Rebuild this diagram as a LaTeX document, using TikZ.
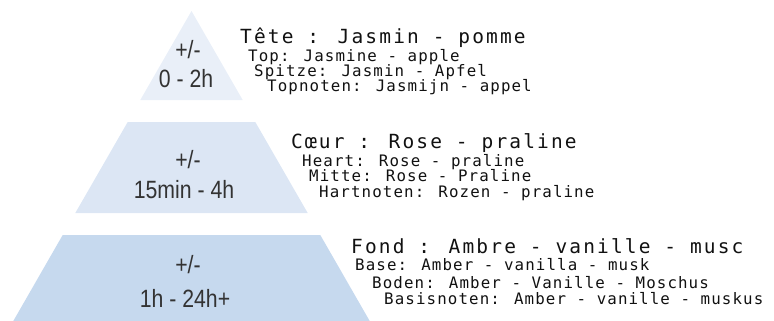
\documentclass[tikz,border=0pt]{standalone}
\usepackage{fontspec}
\setmainfont{Liberation Sans}
\newfontfamily\pyrfont[FakeStretch=0.85]{Liberation Sans}
\newfontfamily\headfont[LetterSpace=11]{DejaVu Sans Mono}
\newfontfamily\subfont[LetterSpace=7]{DejaVu Sans Mono}
\definecolor{tierA}{HTML}{E9EFF8}
\definecolor{tierB}{HTML}{DCE6F4}
\definecolor{tierC}{HTML}{C6D9EE}
\definecolor{pyrtext}{HTML}{333333}
\definecolor{notetext}{HTML}{111111}
\begin{document}
\begin{tikzpicture}[x=1pt,y=-1pt,
  timelbl/.style={font=\pyrfont\fontsize{25}{27}\selectfont, text=pyrtext, inner sep=0pt, anchor=center},
  headline/.style={font=\headfont\fontsize{19.5}{21}\selectfont, text=notetext, inner sep=0pt, anchor=base west},
  subline/.style={font=\subfont\fontsize{15.8}{17}\selectfont, text=notetext, inner sep=0pt, anchor=base west}]
\useasboundingbox (0,0) rectangle (774,321);
% pyramid tiers
\fill[tierA] (191.5,11) -- (242.7,100) -- (140.3,100) -- cycle;
\fill[tierB] (127.7,122) -- (255.3,122) -- (307.7,213) -- (75.3,213) -- cycle;
\fill[tierC] (62.7,235) -- (320.3,235) -- (369.7,321) -- (13.3,321) -- cycle;
% durations
\node[timelbl] (t1a) at (188,50) {+/-};
\node[timelbl] (t1b) at (186,79) {0 - 2h};
\node[timelbl] (t2a) at (188,160) {+/-};
\node[timelbl] (t2b) at (184,190) {15min - 4h};
\node[timelbl] (t3a) at (188,265) {+/-};
\node[timelbl] (t3b) at (185,298) {1h - 24h+};
% top notes
\node[headline] (h1) at (240,44) {Tête : Jasmin - pomme};
\node[subline] (h1a) at (248,62) {Top: Jasmine - apple};
\node[subline] (h1b) at (254,77) {Spitze: Jasmin - Apfel};
\node[subline] (h1c) at (267,92) {Topnoten: Jasmijn - appel};
% heart notes
\node[headline] (h2) at (291,148) {Cœur : Rose - praline};
\node[subline] (h2a) at (302,166) {Heart: Rose - praline};
\node[subline] (h2b) at (309,181) {Mitte: Rose - Praline};
\node[subline] (h2c) at (319,197) {Hartnoten: Rozen - praline};
% base notes
\node[headline] (h3) at (351,253) {Fond : Ambre - vanille - musc};
\node[subline] (h3a) at (355,270) {Base: Amber - vanilla - musk};
\node[subline] (h3b) at (372,288) {Boden: Amber - Vanille - Moschus};
\node[subline] (h3c) at (384,304) {Basisnoten: Amber - vanille - muskus};
\end{tikzpicture}
\end{document}
